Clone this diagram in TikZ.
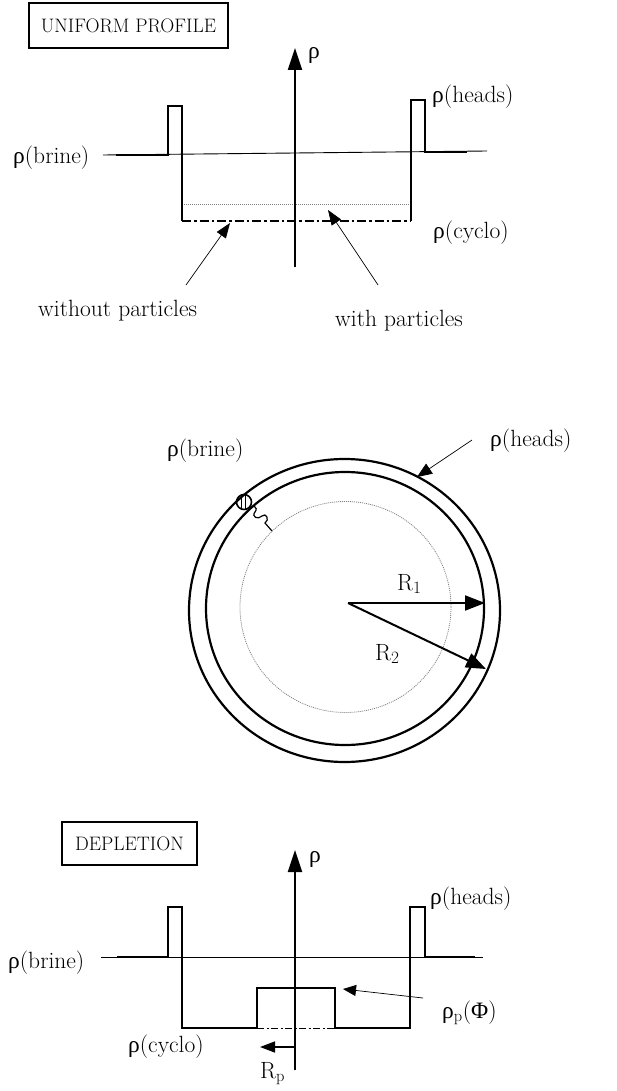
\documentclass[tikz,border=0pt]{standalone}
\usepackage{fontspec}
\newfontfamily\grk{Liberation Serif}
\usetikzlibrary{arrows.meta}
\newcommand{\rh}{{\grk ρ}}
\tikzset{
  lbl/.style={font=\fontsize{23.5}{28}\selectfont, inner sep=0pt},
  boxlbl/.style={draw, line width=1.4pt, font=\fontsize{19.5}{23}\selectfont, inner sep=0pt},
  prof/.style={line width=2.3pt, line join=miter},
  thinline/.style={line width=0.9pt},
  dashdot/.style={line width=2pt, dash pattern=on 9pt off 3pt on 2.5pt off 3pt},
  dotline/.style={line width=0.8pt, gray, dash pattern=on 1pt off 1pt},
  axis/.style={line width=2pt, -{Triangle[length=22pt,width=14pt]}},
  pointer/.style={line width=0.7pt, -{Triangle[length=15pt,width=11pt]}},
  radius arrow/.style={line width=2pt, -{Triangle[length=20pt,width=15pt]}},
  ring/.style={line width=2.2pt},
}
\begin{document}
\begin{tikzpicture}[x=1pt,y=-1pt]
\useasboundingbox (0,0) rectangle (616,1091);

% ---------------- top panel: uniform profile ----------------
\node[boxlbl, minimum width=199pt, minimum height=45pt] (uni) at (128.5,25.5) {UNIFORM PROFILE};
\draw[thinline] (103,155) -- (487,151);
\draw[dotline] (182,204) -- (411,204);
\draw[prof] (116,155) -- (168,155) -- (168,106) -- (182,106) -- (182,221);
\draw[dashdot] (182,221) -- (411,221);
\draw[prof] (411,221) -- (411,100) -- (425,100) -- (425,152) -- (467,152);
\coordinate (ta0) at (295,267);
\coordinate (ta1) at (295,48);
\draw[axis] (ta0) -- (ta1);
\node[lbl, anchor=base west] (trho) at (308,59) {\rh};
\node[lbl, anchor=base west] (tbrine) at (13,164) {\rh(brine)};
\node[lbl, anchor=base west] (theads) at (432,103) {\rh(heads)};
\node[lbl, anchor=base west] (tcyclo) at (433,238) {\rh(cyclo)};
\node[lbl, anchor=base west] (without) at (38,316) {without particles};
\node[lbl, anchor=base west] (with) at (335,326) {with particles};
\coordinate (wo0) at (186,285);
\coordinate (wo1) at (230,223);
\coordinate (wi0) at (378,285);
\coordinate (wi1) at (328,210);
\draw[pointer] (wo0) -- (wo1);
\draw[pointer] (wi0) -- (wi1);

% ---------------- middle: circles ----------------
\draw[ring] (344.5,610.5) ellipse [x radius=155.5pt, y radius=151.5pt];
\draw[ring] (345,608.5) ellipse [x radius=139pt, y radius=136.5pt];
\draw[dotline] (345.5,607) circle [radius=105.5pt];
\coordinate (c) at (348,603);
\coordinate (r1) at (485,603);
\coordinate (r2) at (486,669);
\draw[radius arrow] (c) -- (r1);
\draw[radius arrow] (c) -- (r2);
\node[lbl, anchor=base west] (R1) at (397,590) {R$_1$};
\node[lbl, anchor=base west] (R2) at (375,660) {R$_2$};
\node[lbl, anchor=base west] (mbrine) at (167,456) {\rh(brine)};
\node[lbl, anchor=base west] (mheads) at (490,446) {\rh(heads)};
\coordinate (mh0) at (472,440);
\coordinate (mh1) at (417,477);
\draw[pointer, -{Triangle[length=15pt,width=12pt]}] (mh0) -- (mh1);
% particle with tail
\draw[line width=1.6pt] (244,502) circle [radius=7.5pt];
\draw[line width=0.8pt] (241,496) -- (241,508) (245,495) -- (245,509);
\coordinate (p0) at (249,508);
\coordinate (p1) at (272,531);
\draw[line width=1.2pt] (p0) .. controls (252,504) and (259,507) .. (255,512)
  .. controls (251,517) and (258,520) .. (262,516)
  .. controls (266,512) and (270,520) .. (265,523) -- (p1);

% ---------------- bottom panel: depletion ----------------
\node[boxlbl, minimum width=135pt, minimum height=43pt] (dep) at (129.5,843.5) {DEPLETION};
\draw[thinline] (101,957) -- (483,957);
\draw[line width=1pt, dash pattern=on 7pt off 2.5pt on 2pt off 2.5pt] (257,1028) -- (335,1028);
\draw[prof] (117,957) -- (168,957) -- (168,907) -- (182,907) -- (182,1028) -- (257,1028)
  -- (257,988) -- (335,988) -- (335,1028) -- (410,1028) -- (410,907) -- (425,907)
  -- (425,957) -- (475,957);
\coordinate (ba0) at (295,1070);
\coordinate (ba1) at (295,850);
\draw[axis] (ba0) -- (ba1);
\node[lbl, anchor=base west] (brho) at (309,862) {\rh};
\node[lbl, anchor=base west] (bheads) at (430,904) {\rh(heads)};
\node[lbl, anchor=base west] (bbrine) at (8,968) {\rh(brine)};
\node[lbl, anchor=base west] (bcyclo) at (128,1052) {\rh(cyclo)};
\node[lbl, anchor=base west] (bphi) at (442,1018) {\rh$_{\mathrm{p}}$({\grk Φ})};
\node[lbl, anchor=base west] (Rp) at (260,1078) {R$_{\mathrm{p}}$};
\coordinate (pp0) at (423,998);
\coordinate (pp1) at (343,989);
\draw[pointer, -{Triangle[length=13pt,width=11pt]}] (pp0) -- (pp1);
\coordinate (rp0) at (295,1047);
\coordinate (rp1) at (260,1047);
\draw[line width=1.5pt, -{Triangle[length=15pt,width=11pt]}] (rp0) -- (rp1);
\end{tikzpicture}
\end{document}
